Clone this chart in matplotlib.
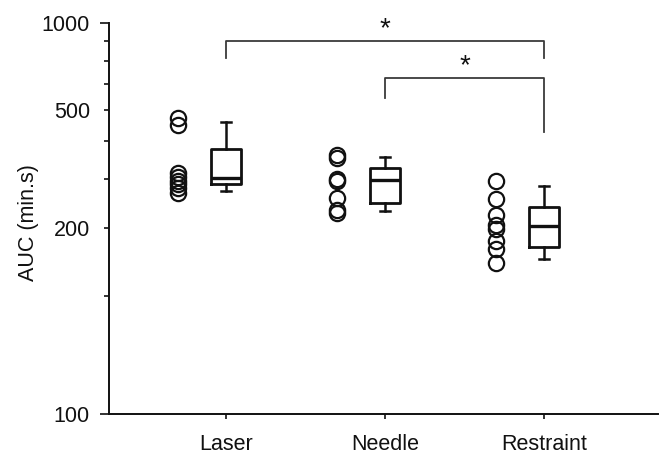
import numpy as np
import matplotlib
matplotlib.use("Agg")
import matplotlib.pyplot as plt
from matplotlib.ticker import FixedLocator, FixedFormatter

plt.rcParams['font.family'] = ['Liberation Sans', 'DejaVu Sans']

# ---------------- data ----------------
categories = ["Laser", "Needle", "Restraint"]

laser_points = [470, 445, 306, 297, 287, 281, 272, 262]
needle_points = [351, 344, 292, 287, 252, 229, 224]
restraint_points = [287, 249, 221, 204, 199, 190, 185, 175]

# box statistics: whisker low, q1, median, q3, whisker high
box_whislo = [267, 228, 178]
box_q1 = [280, 242, 186]
box_med = [294, 290, 202]
box_q3 = [369, 319, 234]
box_whishi = [454, 347, 277]

# significance brackets: (left group, right group, left drop, top, right drop)
bracket_pairs = [(1, 3), (2, 3)]
bracket_left_end = [760, 552]
bracket_top = [870, 644]
bracket_right_end = [760, 422]
bracket_text = ["*", "*"]

y_major = [100, 1000]
y_labeled_minor = [200, 500]

# ---------------- axis scale (as drawn in the original figure) ----------------
LAB = np.log10([100, 200, 500, 1000])
POS = np.log10([100, 300, 600, 1000])


def _pw(x, xp, fp):
    x = np.asarray(x, dtype=float)
    y = np.interp(x, xp, fp)
    lo_s = (fp[1] - fp[0]) / (xp[1] - xp[0])
    hi_s = (fp[-1] - fp[-2]) / (xp[-1] - xp[-2])
    y = np.where(x < xp[0], fp[0] + (x - xp[0]) * lo_s, y)
    y = np.where(x > xp[-1], fp[-1] + (x - xp[-1]) * hi_s, y)
    return y


def fwd(v):
    v = np.clip(np.asarray(v, dtype=float), 1e-6, None)
    return _pw(np.log10(v), LAB, POS)


def inv(u):
    return 10 ** _pw(u, POS, LAB)


# ---------------- figure ----------------
fig = plt.figure(figsize=(6.65, 4.55), dpi=100)
ax = fig.add_axes([109 / 665, 41 / 455, 549 / 665, 390.7 / 455])
ax.set_yscale('function', functions=(fwd, inv))
ax.set_ylim(100, 1000)
ax.set_xlim(0.264, 3.717)

positions = np.arange(1, len(categories) + 1)
stats = []
for i, c in enumerate(categories):
    stats.append(dict(label=c, med=box_med[i], q1=box_q1[i], q3=box_q3[i],
                      whislo=box_whislo[i], whishi=box_whishi[i], fliers=[]))

ax.bxp(stats, positions=positions, widths=0.19, capwidths=0.065,
       showfliers=False, manage_ticks=False,
       boxprops=dict(color='#111111', linewidth=2.0),
       medianprops=dict(color='#111111', linewidth=2.4),
       whiskerprops=dict(color='#111111', linewidth=1.8),
       capprops=dict(color='#111111', linewidth=1.8))

for pos, pts in zip(positions, [laser_points, needle_points, restraint_points]):
    ax.plot(np.full(len(pts), pos - 0.3), pts, linestyle='none', marker='o',
            markersize=11, markerfacecolor='none', markeredgecolor='#111111',
            markeredgewidth=1.6, clip_on=False)

for (a, b), le, tp, re, t in zip(bracket_pairs, bracket_left_end, bracket_top,
                                  bracket_right_end, bracket_text):
    ax.plot([a, a, b, b], [le, tp, tp, re], color='#3a3a3a', linewidth=1.3,
            clip_on=False)
    ax.annotate(t, xy=((a + b) / 2, tp), xytext=(0, 3.5),
                textcoords='offset points', ha='center', va='baseline',
                fontsize=20, color='#111111', annotation_clip=False)

# axes styling
for s in ['top', 'right']:
    ax.spines[s].set_visible(False)
for s in ['left', 'bottom']:
    ax.spines[s].set_linewidth(1.4)
    ax.spines[s].set_color('#111111')

ax.set_xticks(positions)
ax.set_xticklabels(categories)
ax.tick_params(axis='x', direction='out', length=3.6, width=1.2, pad=10.5,
               labelsize=15.5, colors='#111111')

# minor ticks sit at the evenly spaced log steps of the drawn axis
drawn_steps = np.log10([200, 300, 400, 500, 600, 700, 800, 900])
minor_all = [float(inv(t)) for t in drawn_steps]
minor_labels = []
for v in minor_all:
    match = [str(L) for L in y_labeled_minor if abs(v - L) / L < 0.02]
    minor_labels.append(match[0] if match else "")

ax.yaxis.set_major_locator(FixedLocator(y_major))
ax.yaxis.set_major_formatter(FixedFormatter([str(v) for v in y_major]))
ax.yaxis.set_minor_locator(FixedLocator(minor_all))
ax.yaxis.set_minor_formatter(FixedFormatter(minor_labels))
ax.tick_params(axis='y', which='major', direction='out', length=6.5,
               width=1.2, pad=7.2, labelsize=15.5, colors='#111111')
ax.tick_params(axis='y', which='minor', direction='out', length=3.6,
               width=1.2, pad=10.0, labelsize=15.5, colors='#111111')

ax.set_ylabel("AUC (min.s)", fontsize=15.5, color='#111111')
ax.yaxis.set_label_coords(-0.128, 0.49)

fig.savefig("out.png", dpi=100)
